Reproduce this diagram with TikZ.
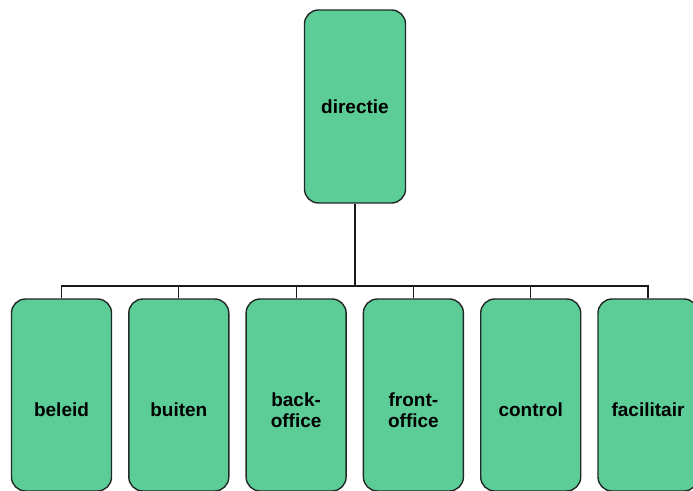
\documentclass[tikz,border=0pt]{standalone}
\usepackage{fontspec}
\setmainfont{Liberation Sans}
\usetikzlibrary{positioning}

\definecolor{boxfill}{RGB}{92,205,151}
\definecolor{boxline}{RGB}{34,40,38}

\tikzset{
  unit/.style={draw=boxline, fill=boxfill, line width=1.4pt, rounded corners=14pt,
    minimum width=100pt, minimum height=192pt, inner sep=0pt,
    font=\bfseries\fontsize{19}{21.5}\selectfont, text=black, align=center},
  sub/.style={unit, label={[yshift=-15pt, font=\bfseries\fontsize{19}{21.5}\selectfont,
    text=black, align=center]center:#1}},
  link/.style={line width=1.2pt, draw=black!90}
}

\begin{document}
\begin{tikzpicture}[x=1pt,y=-1pt]
  \useasboundingbox (0,0) rectangle (693,490);
  \clip (0,0) rectangle (693,490);

  % top of the organisation
  \node[unit, minimum width=101pt, minimum height=193pt] (directie) at (355,106.5) {directie};
  \coordinate (bus) at (355,286);

  % departments
  \node[sub=beleid] (beleid) at (61.5,395) {};
  \node[sub=buiten, right=15.9pt of beleid] (buiten) {};
  \node[sub={back-\\office}, right=15.9pt of buiten] (back) {};
  \node[sub={front-\\office}, right=15.9pt of back] (front) {};
  \node[sub=control, right=15.9pt of front] (control) {};
  \node[sub=facilitair, right=15.9pt of control] (facilitair) {};

  % lines
  \draw[link] (directie.south) -- (bus);
  \draw[link] (beleid.north) |- (bus) -| (facilitair.north);
  \foreach \n in {buiten,back,front,control}
    \draw[link] (\n.north) -- (\n.north |- bus);
\end{tikzpicture}
\end{document}
